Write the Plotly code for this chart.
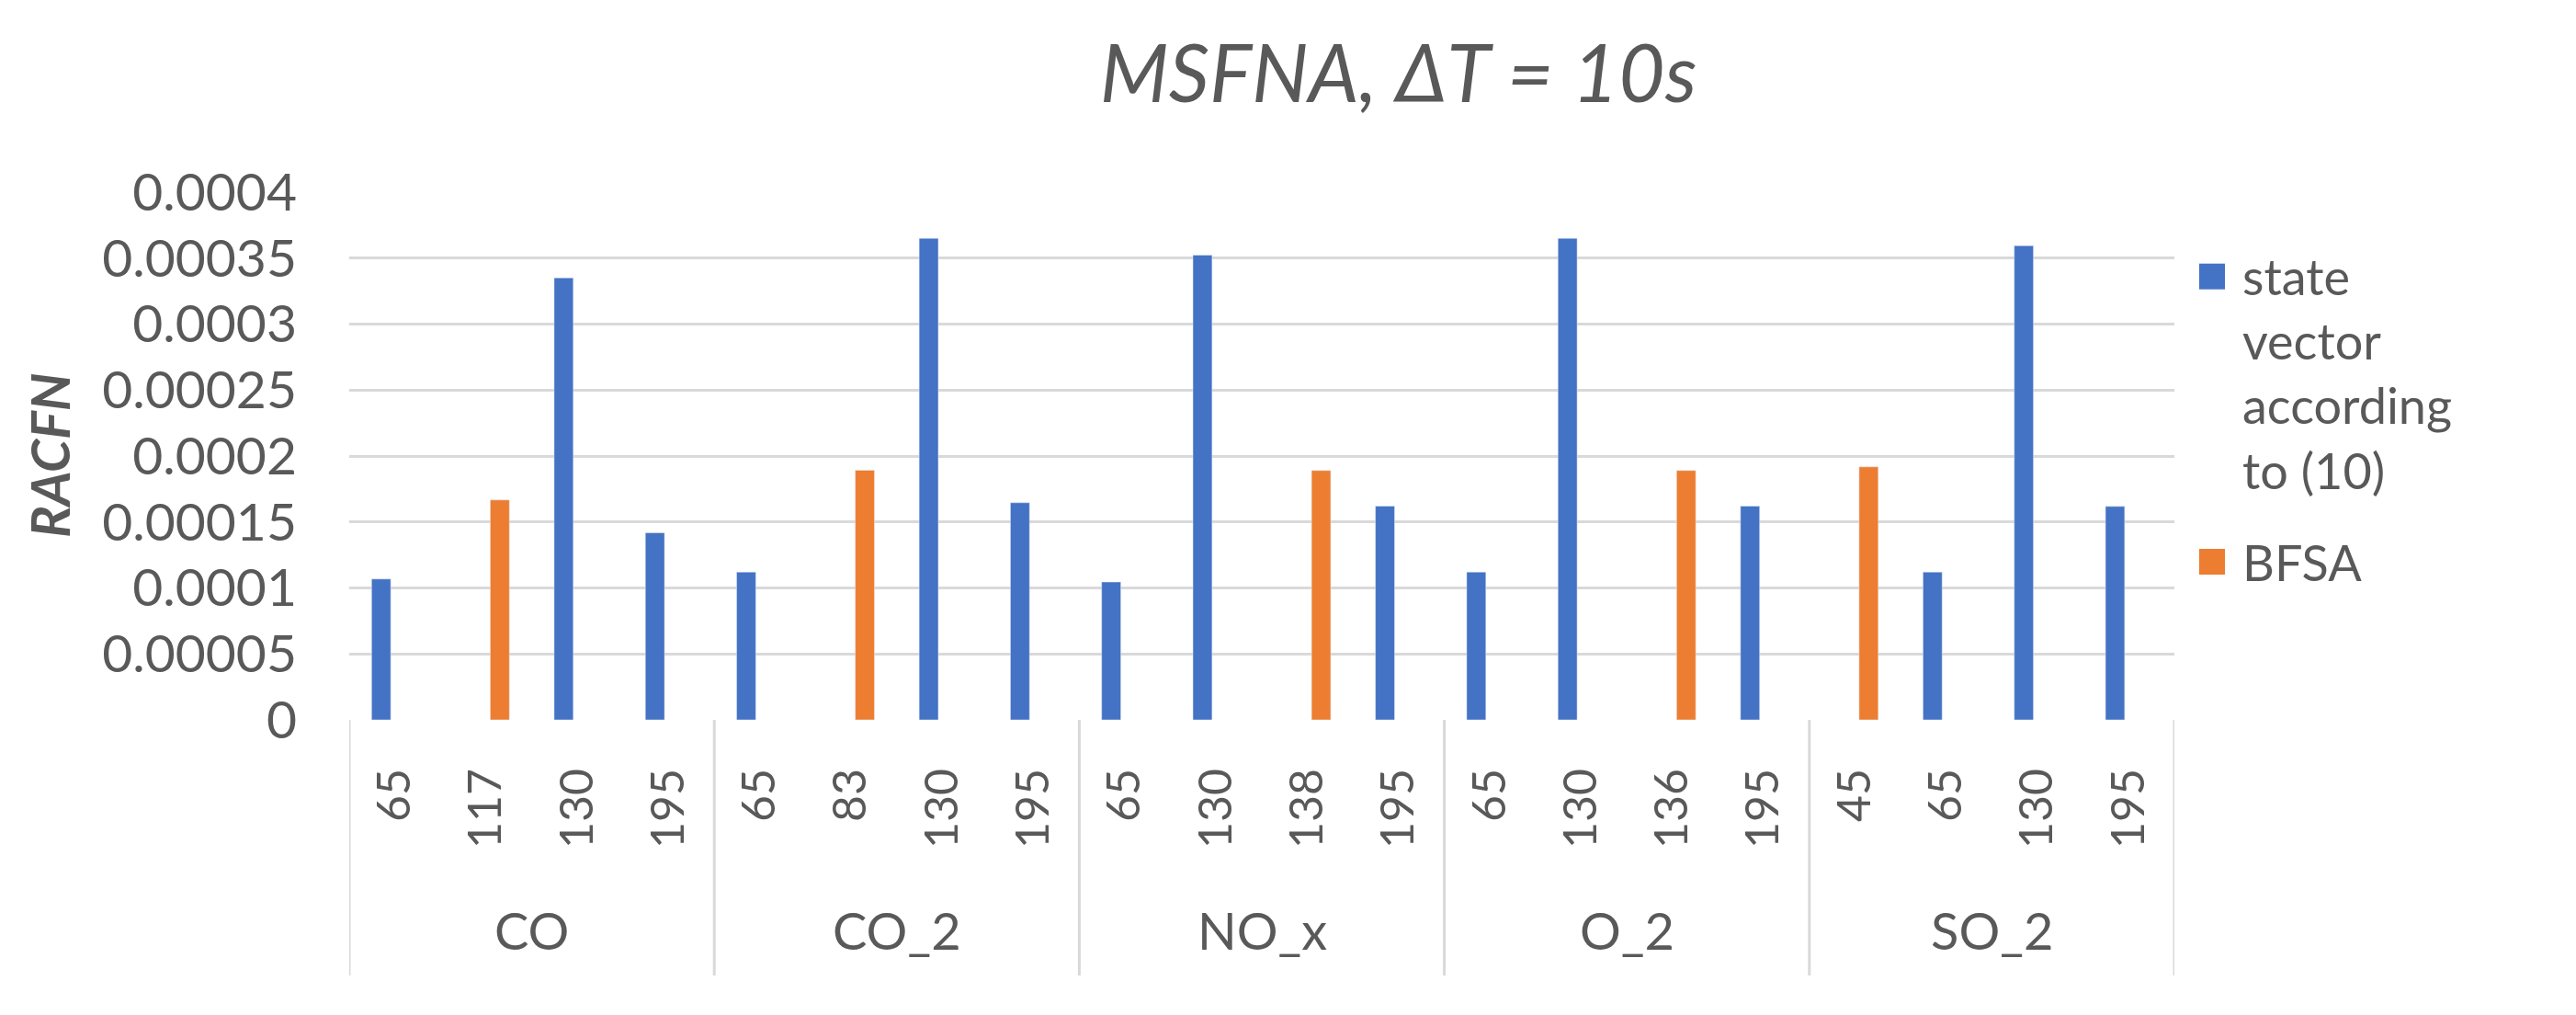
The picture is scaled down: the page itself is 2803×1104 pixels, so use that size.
import plotly.graph_objects as go

# ---- data ----
groups = ["CO", "CO_2", "NO_x", "O_2", "SO_2"]
categories = [
    ["65", "117", "130", "195"],
    ["65", "83", "130", "195"],
    ["65", "130", "138", "195"],
    ["65", "130", "136", "195"],
    ["45", "65", "130", "195"],
]
state_vector = [
    [0.0001068, None, 0.000335, 0.0001418],
    [0.000112, None, 0.000365, 0.0001646],
    [0.0001045, 0.0003523, None, 0.000162],
    [0.000112, 0.000365, None, 0.000162],
    [None, 0.000112, 0.0003594, 0.0001618],
]
bfsa = [
    [None, 0.0001667, None, None],
    [None, 0.0001892, None, None],
    [None, None, 0.000189, None],
    [None, None, 0.000189, None],
    [0.0001918, None, None, None],
]
y_tick_vals = [0, 0.00005, 0.0001, 0.00015, 0.0002, 0.00025, 0.0003, 0.00035, 0.0004]
y_tick_text = ["0", "0.00005", "0.0001", "0.00015", "0.0002", "0.00025", "0.0003", "0.00035", "0.0004"]
series_names = ["state vector according to (10)", "BFSA"]
legend_lines = [["state", "vector", "according", "to (10)"], ["BFSA"]]
series_colors = ["#4472C4", "#ED7D31"]

# ---- flatten ----
xpos, xlabels, sv, bf = [], [], [], []
group_bounds = []
i = 0
for g, cats in enumerate(categories):
    start = i
    for j, c in enumerate(cats):
        xpos.append(i)
        xlabels.append(c)
        sv.append(state_vector[g][j])
        bf.append(bfsa[g][j])
        i += 1
    group_bounds.append((start, i - 1))

FONT = "Lato"
TXT = "#595959"
GRID = "#d9d9d9"

W, H = 2803, 1104
L, R, T, B = 372, 445, 201, 329
plot_w = W - L - R
plot_h = H - T - B


def px_x(px):
    return (px - L) / plot_w


def px_y(py):
    return (H - B - py) / plot_h


fig = go.Figure()
fig.add_trace(go.Bar(x=xpos, y=sv, name=series_names[0], marker_color=series_colors[0]))
fig.add_trace(go.Bar(x=xpos, y=bf, name=series_names[1], marker_color=series_colors[1]))

shapes = []
bounds = [s - 0.5 for s, e in group_bounds] + [group_bounds[-1][1] + 0.5]
for bx in bounds:
    shapes.append(dict(type="line", xref="x", yref="paper", x0=bx, x1=bx,
                       y0=0, y1=-278 / plot_h,
                       line=dict(color=GRID, width=3)))

annotations = []
for g, (s, e) in zip(groups, group_bounds):
    annotations.append(dict(xref="x", yref="paper", x=(s + e) / 2, y=-228 / plot_h,
                            text=g, showarrow=False, yanchor="middle",
                            font=dict(family=FONT, size=56, color=TXT)))
annotations.append(dict(xref="paper", yref="paper", x=px_x(45), y=0.5,
                        xanchor="center", yanchor="middle",
                        text="RACFN", textangle=-90, showarrow=False,
                        font=dict(family=FONT, size=58, color=TXT, weight="bold", style="italic")))

# legend (drawn manually to match the large square keys)
LEG_FONT = 54
line_h = LEG_FONT * 1.3
sq_left, sq_size, text_left = 2385, 28, 2430
block_centers = [398, 603]
for k, lines in enumerate(legend_lines):
    cy = block_centers[k]
    first_line = cy - (len(lines) - 1) * line_h / 2
    shapes.append(dict(type="rect", xref="paper", yref="paper",
                       x0=px_x(sq_left), x1=px_x(sq_left + sq_size),
                       y0=px_y(first_line + sq_size / 2), y1=px_y(first_line - sq_size / 2),
                       fillcolor=series_colors[k], line=dict(width=0)))
    annotations.append(dict(xref="paper", yref="paper", x=px_x(text_left), y=px_y(cy),
                            xanchor="left", yanchor="middle", align="left",
                            text="<br>".join(lines), showarrow=False,
                            font=dict(family=FONT, size=LEG_FONT, color=TXT)))

fig.update_layout(
    width=W, height=H,
    margin=dict(l=L, r=R, t=T, b=B),
    paper_bgcolor="white", plot_bgcolor="white",
    barmode="group", bargap=0.40, bargroupgap=0.30,
    showlegend=False,
    title=dict(text="MSFNA, ΔT = 10s", x=0.54, xanchor="center", y=1 - 73 / H, yanchor="middle",
               font=dict(family=FONT, size=87, color=TXT, style="italic")),
    xaxis=dict(range=[-0.5, len(xpos) - 0.5], tickvals=xpos, ticktext=xlabels, tickangle=-90,
               showgrid=False, zeroline=False, showline=False, ticks="",
               ticklabelstandoff=42,
               tickfont=dict(family=FONT, size=50, color=TXT)),
    yaxis=dict(range=[0, 0.0004], tickvals=y_tick_vals, ticktext=y_tick_text,
               showgrid=True, gridcolor=GRID, gridwidth=3, zeroline=False, showline=False,
               ticks="", ticklabelstandoff=56,
               tickfont=dict(family=FONT, size=57, color=TXT)),
    shapes=shapes, annotations=annotations,
)

fig.write_html("out.html")
